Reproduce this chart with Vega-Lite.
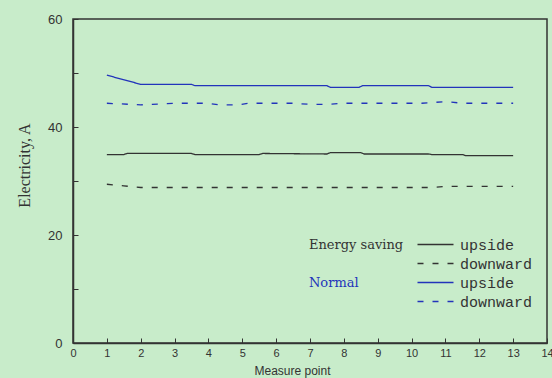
{
  "$schema": "https://vega.github.io/schema/vega-lite/v6.json",
  "width": 474,
  "height": 324,
  "autosize": {"type": "none"},
  "padding": {"left": 73, "top": 19, "right": 5, "bottom": 35},
  "background": "#c8ecca",
  "config": {
    "view": {"stroke": "#333333", "strokeWidth": 1.5},
    "font": "Liberation Sans",
    "axis": {"labelOverlap": false, "labelFlush": false, "labelBound": false, "labelSeparation": 0},
    "axisX": {"labelOverlap": false, "labelFlush": false, "labelBound": false, "labelSeparation": 0}
  },
  "data": {
    "values": [
      {"series": "Energy saving upside", "point": 1, "current": 34.9},
      {"series": "Energy saving upside", "point": 1.5, "current": 34.9},
      {"series": "Energy saving upside", "point": 1.6, "current": 35.1},
      {"series": "Energy saving upside", "point": 3.5, "current": 35.1},
      {"series": "Energy saving upside", "point": 3.6, "current": 34.9},
      {"series": "Energy saving upside", "point": 5.5, "current": 34.9},
      {"series": "Energy saving upside", "point": 5.6, "current": 35.1},
      {"series": "Energy saving upside", "point": 7.5, "current": 35.0},
      {"series": "Energy saving upside", "point": 7.6, "current": 35.25},
      {"series": "Energy saving upside", "point": 8.5, "current": 35.25},
      {"series": "Energy saving upside", "point": 8.6, "current": 35.0},
      {"series": "Energy saving upside", "point": 10.5, "current": 35.0},
      {"series": "Energy saving upside", "point": 10.6, "current": 34.9},
      {"series": "Energy saving upside", "point": 11.5, "current": 34.9},
      {"series": "Energy saving upside", "point": 11.6, "current": 34.7},
      {"series": "Energy saving upside", "point": 13, "current": 34.7},

      {"series": "Energy saving downward", "point": 1, "current": 29.4},
      {"series": "Energy saving downward", "point": 1.5, "current": 29.1},
      {"series": "Energy saving downward", "point": 2, "current": 28.8},
      {"series": "Energy saving downward", "point": 10.6, "current": 28.8},
      {"series": "Energy saving downward", "point": 11, "current": 29.0},
      {"series": "Energy saving downward", "point": 13, "current": 29.0},

      {"series": "Normal upside", "point": 1, "current": 49.6},
      {"series": "Normal upside", "point": 2, "current": 47.9},
      {"series": "Normal upside", "point": 3.5, "current": 47.9},
      {"series": "Normal upside", "point": 3.6, "current": 47.65},
      {"series": "Normal upside", "point": 7.5, "current": 47.65},
      {"series": "Normal upside", "point": 7.6, "current": 47.35},
      {"series": "Normal upside", "point": 8.45, "current": 47.35},
      {"series": "Normal upside", "point": 8.55, "current": 47.65},
      {"series": "Normal upside", "point": 10.5, "current": 47.65},
      {"series": "Normal upside", "point": 10.6, "current": 47.35},
      {"series": "Normal upside", "point": 13, "current": 47.35},

      {"series": "Normal downward", "point": 1, "current": 44.4},
      {"series": "Normal downward", "point": 2, "current": 44.1},
      {"series": "Normal downward", "point": 3, "current": 44.4},
      {"series": "Normal downward", "point": 4, "current": 44.4},
      {"series": "Normal downward", "point": 4.3, "current": 44.1},
      {"series": "Normal downward", "point": 4.9, "current": 44.1},
      {"series": "Normal downward", "point": 5.2, "current": 44.4},
      {"series": "Normal downward", "point": 6.5, "current": 44.4},
      {"series": "Normal downward", "point": 7, "current": 44.2},
      {"series": "Normal downward", "point": 7.5, "current": 44.2},
      {"series": "Normal downward", "point": 8, "current": 44.4},
      {"series": "Normal downward", "point": 10.3, "current": 44.4},
      {"series": "Normal downward", "point": 11, "current": 44.7},
      {"series": "Normal downward", "point": 11.5, "current": 44.4},
      {"series": "Normal downward", "point": 13, "current": 44.4}
    ]
  },
  "layer": [
    {
      "mark": {"type": "line", "strokeWidth": 1.3},
      "encoding": {
        "x": {
          "field": "point",
          "type": "quantitative",
          "scale": {"domain": [0, 14]},
          "axis": {
            "title": "Measure point",
            "values": [0, 1, 2, 3, 4, 5, 6, 7, 8, 9, 10, 11, 12, 13, 14],
            "tickCount": 15,
            "grid": false,
            "domainColor": "#333333",
            "domainWidth": 1.5,
            "tickColor": "#333333",
            "tickSize": -5,
            "labelPadding": 9,
            "labelFontSize": 11,
            "labelColor": "#333333",
            "labelOverlap": false,
            "titleFontSize": 12,
            "titleFontWeight": "normal",
            "titleColor": "#333333",
            "titlePadding": 7,
            "titleX": 219
          }
        },
        "y": {
          "field": "current",
          "type": "quantitative",
          "scale": {"domain": [0, 60]},
          "axis": {
            "title": "Electricity, A",
            "values": [0, 10, 20, 30, 40, 50, 60],
            "labelExpr": "datum.value % 20 == 0 ? datum.label : ''",
            "grid": false,
            "domainColor": "#333333",
            "domainWidth": 1.5,
            "tickColor": "#333333",
            "tickSize": -5,
            "labelPadding": 16,
            "labelFontSize": 13,
            "labelColor": "#333333",
            "titleFont": "Liberation Serif",
            "titleFontSize": 16,
            "titleFontWeight": "normal",
            "titleColor": "#333333",
            "titlePadding": 15,
            "titleY": 146
          }
        },
        "color": {
          "field": "series",
          "type": "nominal",
          "scale": {
            "domain": ["Energy saving upside", "Energy saving downward", "Normal upside", "Normal downward"],
            "range": ["#333333", "#333333", "#2233bb", "#2233bb"]
          },
          "legend": {
            "title": null,
            "orient": "none",
            "legendX": 355,
            "legendY": 218,
            "symbolType": "M-3.6,0H3.6",
            "symbolSize": 100,
            "symbolStrokeWidth": 1.3,
            "labelFont": "Liberation Mono",
            "labelFontSize": 15,
            "labelColor": "#333333",
            "labelOffset": 17,
            "rowPadding": 3,
            "labelExpr": "indexof(datum.label, 'upside') >= 0 ? 'upside' : 'downward'"
          }
        },
        "strokeDash": {
          "field": "series",
          "type": "nominal",
          "scale": {
            "domain": ["Energy saving upside", "Energy saving downward", "Normal upside", "Normal downward"],
            "range": [[1, 0], [6, 9], [1, 0], [6, 9]]
          },
          "legend": {
            "title": null,
            "orient": "none",
            "legendX": 355,
            "legendY": 218,
            "symbolType": "M-3.6,0H3.6",
            "symbolSize": 100,
            "symbolStrokeWidth": 1.3,
            "labelFont": "Liberation Mono",
            "labelFontSize": 15,
            "labelColor": "#333333",
            "labelOffset": 17,
            "rowPadding": 3,
            "labelExpr": "indexof(datum.label, 'upside') >= 0 ? 'upside' : 'downward'"
          }
        }
      }
    },
    {
      "data": {"values": [{}]},
      "mark": {"type": "text", "align": "left", "baseline": "middle", "font": "DejaVu Serif", "fontSize": 13, "color": "#333333"},
      "encoding": {
        "x": {"datum": 6.97, "type": "quantitative", "axis": {"values": [0, 1, 2, 3, 4, 5, 6, 7, 8, 9, 10, 11, 12, 13, 14], "tickCount": 15, "labelOverlap": false}},
        "y": {"datum": 18.15, "type": "quantitative"},
        "text": {"value": "Energy saving"}
      }
    },
    {
      "data": {"values": [{}]},
      "mark": {"type": "text", "align": "left", "baseline": "middle", "font": "DejaVu Serif", "fontSize": 13, "color": "#2233bb"},
      "encoding": {
        "x": {"datum": 6.97, "type": "quantitative", "axis": {"values": [0, 1, 2, 3, 4, 5, 6, 7, 8, 9, 10, 11, 12, 13, 14], "tickCount": 15, "labelOverlap": false}},
        "y": {"datum": 11.1, "type": "quantitative"},
        "text": {"value": "Normal"}
      }
    }
  ]
}
